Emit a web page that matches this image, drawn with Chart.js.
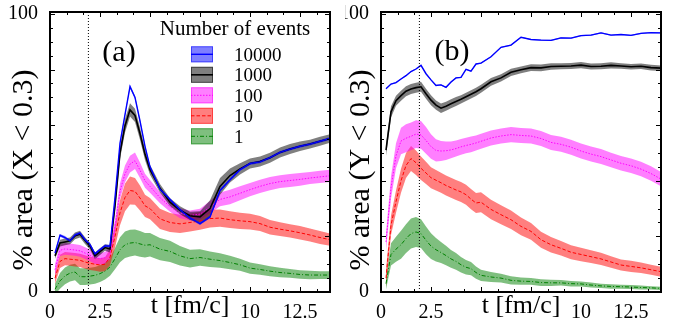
<!DOCTYPE html>
<html>
<head>
<meta charset="utf-8">
<script src="https://cdn.jsdelivr.net/npm/chart.js@4.4.1/dist/chart.umd.min.js"></script>
<style>
  html, body { margin: 0; padding: 0; background: #fff; }
  #wrap { position: relative; width: 687px; height: 329px; }
  canvas { position: absolute; top: 0; }
  #chartA { left: 0; }
  #chartB { left: 345px; }
</style>
</head>
<body>
<div id="wrap">
  <canvas id="chartA" width="345" height="329"></canvas>
  <canvas id="chartB" width="342" height="329"></canvas>
</div>
<script>
/* time axis in fm/c, shared by every curve */
const times = [0.25, 0.5, 0.75, 1, 1.25, 1.5, 1.75, 2, 2.25, 2.5, 2.75, 3, 3.25, 3.5, 3.75, 4, 4.25, 4.5, 4.75, 5,
  5.5, 6, 6.5, 7, 7.5, 8, 8.5, 9, 9.5, 10, 10.5, 11, 11.5, 12, 12.5, 13, 13.5, 14];

const eventLabels = ['10000', '1000', '100', '10', '1'];
const xLabels = [0, 2.5, 10, 12.5];
const yLabels = [0, 100];
const markT = 1.92;   // dotted vertical line
const xMax = 14;
const yMax = 100.7;

/* panel (a): % area (X < 0.3) */
const blueA = [14, 20.4, 19.6, 18.4, 20.5, 21.2, 18.8, 17, 13.7, 15.2, 16.6, 16.5, 34, 53.5, 63.8, 73.9, 70, 61.5, 52.4, 45,
  37, 33.3, 29.6, 26.6, 24.6, 27, 36.5, 40.4, 44, 46.2, 46.8, 48.3, 50.2, 51.4, 52.4, 53.2, 54.2, 55.2];
const blackA = [13, 17.6, 18, 18.4, 20.2, 20.8, 18.5, 16.5, 13, 14.5, 16, 15.5, 31, 50, 59.8, 65.5, 63.5, 57, 49.5, 44,
  37.3, 32.3, 29.4, 27.4, 27, 30, 38, 41.9, 44.3, 46.2, 46.9, 48.3, 50.2, 51.4, 52.4, 53.2, 54.2, 55.2];
const magentaA = [8, 15, 15.5, 15.3, 15.1, 14.8, 14, 13.2, 12.2, 12, 12.3, 14, 23.5, 36.3, 42.5, 46, 47.2, 43.8, 40, 38,
  33.9, 30.7, 28.3, 27.5, 28, 30.5, 33.3, 34.2, 35.5, 36.8, 38, 39, 39.7, 40.1, 40.5, 41, 41.4, 41.8];
const redA = [5, 11, 12, 11.8, 11.6, 11.4, 10.8, 10.3, 10, 9.7, 10, 12.5, 20, 28.5, 34, 36.5, 36.2, 33.8, 31, 30,
  26.3, 25, 24.5, 25, 25.6, 26.4, 26.6, 26, 25.6, 25.3, 24.6, 23.3, 22.6, 22, 21.3, 20.5, 19.6, 18.8];
const greenA = [1, 4, 5.8, 6.8, 7.2, 5.5, 5.5, 5.7, 6, 6.6, 7.5, 9, 12, 15.2, 17, 17.6, 17.8, 17.3, 16.8, 17,
  15.4, 14.6, 13, 12, 12.4, 11.8, 11.3, 10.6, 9.8, 8.6, 8.1, 7.5, 7, 6.7, 6.3, 6.1, 6.1, 6.1];

/* half widths of the shaded bands, panel (a) */
const blueErrA = [0.5, 0.5, 0.5, 0.5, 0.5, 0.5, 0.5, 0.5, 0.5, 0.5, 0.5, 0.5, 0.6, 0.6, 0.6, 0.6, 0.6, 0.6, 0.5, 0.5,
  0.5, 0.5, 0.5, 0.5, 0.5, 0.5, 0.5, 0.5, 0.5, 0.5, 0.5, 0.5, 0.5, 0.5, 0.5, 0.5, 0.5, 0.5];
const blackErrA = [1, 1.2, 1.2, 1.2, 1.2, 1.2, 1.2, 1.2, 1.2, 1.2, 1.2, 1.3, 1.8, 2.2, 2.4, 2.4, 2.4, 2.2, 2, 1.8,
  1.5, 1.4, 1.4, 1.5, 2, 3, 3, 2.5, 2, 1.8, 1.8, 1.8, 1.8, 1.8, 1.7, 1.6, 1.6, 1.5];
const magentaErrA = [2, 2.1, 2.1, 2.1, 2.1, 2.1, 2.1, 2.1, 2.1, 2.1, 2.1, 2.3, 2.6, 2.8, 3, 3, 3, 2.8, 2.5, 2.3,
  2, 1.8, 1.8, 1.8, 1.9, 2.2, 2.5, 2.6, 2.5, 2.4, 2.4, 2.4, 2.3, 2.3, 2.3, 2.2, 2.2, 2.2];
const redErrA = [2, 2.4, 2.4, 2.4, 2.4, 2.4, 2.4, 2.4, 2.4, 2.4, 2.5, 3, 4, 4.5, 5, 5, 4.8, 4.5, 4, 3.8,
  3.6, 3.4, 3.3, 3.2, 3.2, 3.2, 3.1, 3, 2.9, 2.8, 2.7, 2.6, 2.5, 2.4, 2.4, 2.3, 2.3, 2.2];
const greenErrA = [2, 2.8, 3, 3, 3, 3, 3, 3, 3, 3, 3, 3.2, 3.8, 4.5, 4.8, 4.8, 4.7, 4.6, 4.4, 4.2,
  4, 3.8, 3.5, 3.2, 3, 2.8, 2.6, 2.4, 2.2, 2, 1.9, 1.8, 1.7, 1.6, 1.5, 1.5, 1.4, 1.4];

/* panel (b): % area (Y < 0.3) */
const blueB = [73.1, 74.8, 75.3, 76.6, 77.8, 79.3, 80.2, 81.5, 78.5, 76.3, 74.3, 74.5, 73.6, 75.5, 77, 77.2, 80.1, 79.4, 82, 82.3,
  84.6, 88, 88.8, 91.6, 90.8, 90.6, 90.5, 91.4, 91.3, 92.2, 92.4, 93.2, 92.4, 92.6, 92.3, 93, 93.3, 93.2];
const blackB = [51, 64.8, 68.8, 70.6, 72.2, 73, 73.5, 73.8, 71.3, 69, 67.2, 66.1, 66.8, 67.7, 68.5, 69.3, 70.2, 71.1, 72, 73.1,
  75.6, 77, 79, 79.9, 80.7, 80.6, 81.1, 81.2, 81.3, 81.6, 81.1, 81.2, 81.5, 81.3, 81, 81.2, 80.7, 80.5];
const magentaB = [18, 37.5, 49, 54.3, 55.3, 56, 56.8, 56.5, 54.5, 52.3, 50.9, 50.7, 50.8, 51.1, 51.6, 52.2, 52.7, 53.1, 53.6, 54.2,
  55.4, 56.1, 56.6, 56.3, 56.1, 55.2, 53.8, 53.1, 52.1, 50.7, 49.6, 48.7, 47.5, 46.3, 45.4, 44.2, 42.6, 40.6];
const redB = [5, 24, 32.5, 40, 45.5, 48, 46.5, 44.5, 42.8, 41.1, 40.2, 39.3, 38.3, 37.5, 36.7, 36, 35, 33.4, 32, 32.3,
  29.7, 27.8, 26, 23.6, 21.8, 18.8, 17, 15.7, 14.3, 13.5, 12.7, 11.9, 10.8, 9.7, 9.2, 8.7, 8, 7.3];
const greenB = [3, 13.5, 15.4, 17, 19.2, 21, 21.6, 21, 18.6, 16.5, 15.2, 14.2, 13.1, 11.9, 11, 9.8, 8.9, 8.4, 7, 6,
  5.4, 5, 4.2, 3.9, 3.8, 3.4, 3.3, 3.3, 3, 2.9, 2.5, 2.2, 2, 1.9, 1.8, 1.6, 1.5, 1.3];

/* half widths of the shaded bands, panel (b) */
const blueErrB = [0.2, 0.2, 0.2, 0.2, 0.2, 0.2, 0.2, 0.2, 0.2, 0.2, 0.2, 0.2, 0.2, 0.2, 0.2, 0.2, 0.2, 0.2, 0.2, 0.2,
  0.2, 0.2, 0.2, 0.2, 0.2, 0.2, 0.2, 0.2, 0.2, 0.2, 0.2, 0.2, 0.2, 0.2, 0.2, 0.2, 0.2, 0.2];
const blackErrB = [2, 2, 1.8, 1.8, 1.8, 1.8, 1.8, 1.8, 1.8, 1.8, 1.7, 1.7, 1.6, 1.6, 1.6, 1.5, 1.5, 1.5, 1.5, 1.4,
  1.4, 1.3, 1.3, 1.2, 1.2, 1.2, 1.2, 1.1, 1.1, 1.1, 1.1, 1.1, 1.1, 1, 1, 1, 1, 1];
const magentaErrB = [3, 4, 4.5, 4.8, 5, 5, 5, 5, 4.8, 4.4, 4, 3.6, 3.3, 3, 2.9, 2.8, 2.8, 2.8, 2.7, 2.7,
  2.7, 2.7, 2.7, 2.7, 2.7, 2.7, 2.7, 2.7, 2.7, 2.7, 2.7, 2.7, 2.6, 2.6, 2.6, 2.6, 2.6, 2.6];
const redErrB = [3, 3.5, 4, 4.3, 4.5, 4.5, 4.4, 4.2, 4, 3.8, 3.7, 3.6, 3.6, 3.6, 3.6, 3.6, 3.6, 3.6, 3.6, 3.6,
  3.5, 3.4, 3.3, 3.2, 3, 2.9, 2.8, 2.6, 2.5, 2.4, 2.3, 2.2, 2.1, 2, 2, 1.9, 1.8, 1.8];
const greenErrB = [2, 4, 4.5, 5, 5.2, 5.4, 5.4, 5.2, 5, 4.6, 4.2, 3.8, 3.5, 3.2, 3, 2.8, 2.6, 2.4, 2.2, 2,
  1.8, 1.6, 1.5, 1.3, 1.2, 1.2, 1.1, 1, 1, 0.9, 0.9, 0.8, 0.8, 0.7, 0.7, 0.7, 0.6, 0.6];

/* look of each event count: line colour, band colour, line width and dash */
const styles = [
  { line: '#0000ff', band: 'rgba(0,0,255,0.5)', width: 1.4, dash: [] },
  { line: '#000000', band: 'rgba(0,0,0,0.5)', width: 1.6, dash: [] },
  { line: '#ff00ff', band: 'rgba(255,0,255,0.5)', width: 1, dash: [1.5, 1.5] },
  { line: '#ff0000', band: 'rgba(255,0,0,0.5)', width: 1, dash: [3.5, 2] },
  { line: '#008000', band: 'rgba(0,128,0,0.5)', width: 1, dash: [4, 2, 1, 2] }
];

const serif = '"Liberation Serif", "Times New Roman", serif';
Chart.defaults.font.family = serif;
Chart.defaults.color = '#000';

function pts(vals, errs, sign) {
  return vals.map((v, k) => ({ x: times[k], y: v + sign * errs[k] }));
}

/* marker first (drawn on top), then the lines, then the band pairs (upper fills to lower) */
function buildDatasets(valueSets, errSets) {
  const lines = [{
    data: [{ x: markT, y: 0 }, { x: markT, y: yMax }],
    borderColor: '#000', borderWidth: 1, borderDash: [1, 2], pointRadius: 0, fill: false, order: 0
  }];
  const bands = [];
  valueSets.forEach((vals, i) => {
    const st = styles[i];
    lines.push({
      data: pts(vals, errSets[i], 0),
      borderColor: st.line, borderWidth: st.width, borderDash: st.dash,
      pointRadius: 0, fill: false, order: 0
    });
    bands.push({
      data: pts(vals, errSets[i], 1),
      borderColor: 'transparent', backgroundColor: st.band, borderWidth: 0,
      pointRadius: 0, fill: '+1', order: 1
    });
    bands.push({
      data: pts(vals, errSets[i], -1),
      borderColor: 'transparent', borderWidth: 0, pointRadius: 0, fill: false, order: 1
    });
  });
  return lines.concat(bands);
}

/* frame, inward ticks, y title, panel tag and (optionally) the legend */
function decor(cfg) {
  return {
    id: 'decor',
    afterDraw(chart) {
      const { ctx, chartArea: a, scales: { x, y } } = chart;
      ctx.save();
      ctx.strokeStyle = '#000';
      ctx.lineWidth = 1;
      ctx.beginPath();
      for (let k = 1; k * 2.5 / 3 < xMax; k++) {
        const px = Math.round(x.getPixelForValue(k * 2.5 / 3)) + 0.5;
        const len = k % 3 === 0 ? 5 : 3;
        ctx.moveTo(px, a.bottom); ctx.lineTo(px, a.bottom - len);
        ctx.moveTo(px, a.top); ctx.lineTo(px, a.top + len);
      }
      for (let v = 5; v < yMax; v += 5) {
        const py = Math.round(y.getPixelForValue(v)) + 0.5;
        const len = v % 20 === 0 ? 5 : 3;
        ctx.moveTo(a.left, py); ctx.lineTo(a.left + len, py);
        ctx.moveTo(a.right, py); ctx.lineTo(a.right - len, py);
      }
      ctx.stroke();
      ctx.lineWidth = 2;
      ctx.strokeRect(a.left, a.top, a.right - a.left, a.bottom - a.top);

      ctx.fillStyle = '#000';
      ctx.font = '30px ' + serif;
      ctx.textAlign = 'center';
      ctx.textBaseline = 'alphabetic';
      ctx.fillText(cfg.tag, cfg.tagX, cfg.tagY);

      ctx.save();
      ctx.translate(cfg.yTitleX, cfg.yTitleY);
      ctx.rotate(-Math.PI / 2);
      ctx.textBaseline = 'middle';
      ctx.fillText(cfg.yTitle, 0, 0);
      ctx.restore();

      if (cfg.legend) {
        ctx.font = '21px ' + serif;
        ctx.textAlign = 'center';
        ctx.fillText('Number of events', 235, 35);
        ctx.font = '19px ' + serif;
        ctx.textAlign = 'left';
        eventLabels.forEach((lab, i) => {
          const st = styles[i];
          const cy = 54.3 + i * 20.5;
          ctx.fillStyle = st.band;
          ctx.fillRect(191, cy - 8, 22, 16);
          ctx.strokeStyle = st.band;
          ctx.lineWidth = 1;
          ctx.setLineDash([]);
          ctx.strokeRect(191.5, cy - 7.5, 21, 15);
          ctx.strokeStyle = st.line;
          ctx.lineWidth = st.width;
          ctx.setLineDash(st.dash);
          ctx.beginPath();
          ctx.moveTo(191, cy); ctx.lineTo(213, cy);
          ctx.stroke();
          ctx.setLineDash([]);
          ctx.fillStyle = '#000';
          ctx.fillText(lab, 234, cy + 6.5);
        });
      }
      ctx.restore();
    }
  };
}

function makeChart(id, datasets, yAxisWidth, padRight, cfg) {
  return new Chart(document.getElementById(id), {
    type: 'line',
    data: { datasets: datasets },
    options: {
      responsive: false,
      animation: false,
      layout: { padding: { top: 10, right: padRight, left: 0, bottom: 0 } },
      plugins: { legend: { display: false }, tooltip: { enabled: false } },
      elements: { line: { tension: 0 } },
      scales: {
        x: {
          type: 'linear', min: 0, max: xMax,
          afterBuildTicks: s => { s.ticks = xLabels.map(v => ({ value: v })); },
          afterFit: s => { s.height = 37; },
          grid: { display: false },
          border: { display: false },
          ticks: { font: { size: 20 }, padding: 1, maxRotation: 0, autoSkip: false, callback: v => String(v) },
          title: { display: true, text: 't [fm/c]', font: { size: 26 }, padding: { top: 0, bottom: 7 } }
        },
        y: {
          type: 'linear', min: 0, max: yMax,
          afterBuildTicks: s => { s.ticks = yLabels.map(v => ({ value: v })); },
          afterFit: s => { s.width = yAxisWidth; },
          grid: { display: false },
          border: { display: false },
          ticks: { font: { size: 20, lineHeight: 0.8 }, padding: 4, callback: v => String(v) }
        }
      }
    },
    plugins: [decor(cfg)]
  });
}

makeChart('chartA',
  buildDatasets([blueA, blackA, magentaA, redA, greenA], [blueErrA, blackErrA, magentaErrA, redErrA, greenErrA]),
  50, 15,
  { tag: '(a)', tagX: 119, tagY: 61, yTitle: '% area (X < 0.3)', yTitleX: 24, yTitleY: 170, legend: true });

makeChart('chartB',
  buildDatasets([blueB, blackB, magentaB, redB, greenB], [blueErrB, blackErrB, magentaErrB, redErrB, greenErrB]),
  36, 26,
  { tag: '(b)', tagX: 107, tagY: 60, yTitle: '% area (Y < 0.3)', yTitleX: 16, yTitleY: 170, legend: false });
</script>
</body>
</html>
